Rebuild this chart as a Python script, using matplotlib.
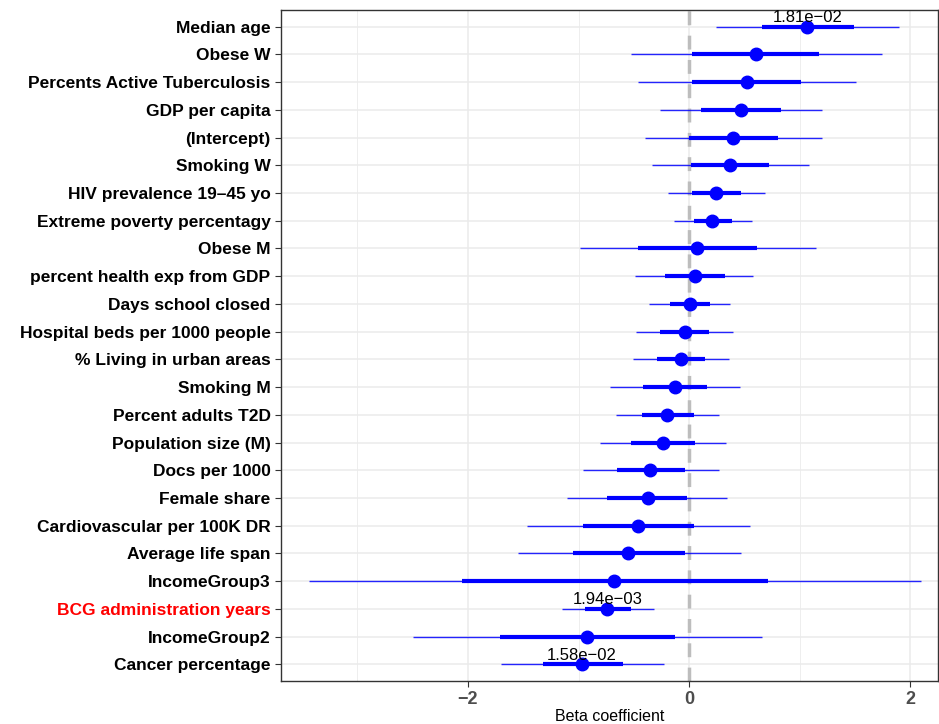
import numpy as np
import matplotlib.pyplot as plt

plt.rcParams['font.family'] = ['Liberation Sans', 'DejaVu Sans']

# terms, top to bottom
terms = ["Median age", "Obese W", "Percents Active Tuberculosis", "GDP per capita",
         "(Intercept)", "Smoking W", "HIV prevalence 19\u201345 yo",
         "Extreme poverty percentagy", "Obese M", "percent health exp from GDP",
         "Days school closed", "Hospital beds per 1000 people",
         "% Living in urban areas", "Smoking M", "Percent adults T2D",
         "Population size (M)", "Docs per 1000", "Female share",
         "Cardiovascular per 100K DR", "Average life span", "IncomeGroup3",
         "BCG administration years", "IncomeGroup2", "Cancer percentage"]

beta = [1.07, 0.60, 0.52, 0.47, 0.40, 0.37, 0.24, 0.21, 0.07, 0.05, 0.01, -0.04,
        -0.07, -0.13, -0.20, -0.24, -0.35, -0.37, -0.46, -0.55, -0.68, -0.74,
        -0.92, -0.97]
# inner (thick) interval
lo_in = [0.66, 0.03, 0.03, 0.11, 0.00, 0.02, 0.03, 0.04, -0.46, -0.22, -0.17, -0.26,
         -0.29, -0.42, -0.43, -0.53, -0.65, -0.74, -0.96, -1.05, -2.05, -0.94,
         -1.71, -1.32]
hi_in = [1.49, 1.17, 1.01, 0.83, 0.80, 0.72, 0.47, 0.39, 0.61, 0.32, 0.19, 0.18,
         0.14, 0.16, 0.04, 0.05, -0.04, -0.02, 0.04, -0.04, 0.71, -0.53,
         -0.13, -0.60]
# outer (thin) interval
lo_out = [0.24, -0.53, -0.46, -0.26, -0.40, -0.34, -0.19, -0.14, -0.99, -0.49, -0.36,
          -0.48, -0.51, -0.72, -0.66, -0.81, -0.96, -1.10, -1.47, -1.55, -3.44,
          -1.15, -2.50, -1.70]
hi_out = [1.90, 1.74, 1.51, 1.20, 1.20, 1.08, 0.69, 0.57, 1.15, 0.58, 0.37, 0.40,
          0.36, 0.46, 0.27, 0.33, 0.27, 0.34, 0.55, 0.47, 2.10, -0.32, 0.66, -0.23]

# p-value annotations for significant terms
pvals = {"Median age": "1.81e\u221202",
         "BCG administration years": "1.94e\u221203",
         "Cancer percentage": "1.58e\u221202"}

n = len(terms)
y = np.arange(n, 0, -1)

fig = plt.figure(figsize=(9.39, 7.24), dpi=100)
ax = fig.add_axes([281/939, 1 - 681/724, (938 - 281)/939, (681 - 10)/724])

ax.set_xlim(-3.69, 2.25)
ax.set_ylim(0.4, n + 0.6)

ax.set_xticks([-2, 0, 2])
ax.set_xticks([-3, -1, 1], minor=True)
ax.set_xticklabels(["\u22122", "0", "2"])
ax.grid(True, which='major', axis='both', color='#ebebeb', lw=1.1, zorder=0)
ax.grid(True, which='minor', axis='x', color='#ebebeb', lw=0.6, zorder=0)
ax.set_axisbelow(True)

ax.axvline(0, color='#bdbdbd', ls=(0, (4, 3)), lw=2.5, zorder=1)

ax.hlines(y, lo_out, hi_out, color='blue', lw=1.0, alpha=0.85, zorder=2)
ax.hlines(y, lo_in, hi_in, color='blue', lw=3.0, zorder=3)
ax.plot(beta, y, 'o', color='blue', ms=9, zorder=4)

for t, b, yy in zip(terms, beta, y):
    if t in pvals:
        ax.text(b, yy + 0.06, pvals[t], ha='center', va='bottom', fontsize=12,
                color='black', zorder=5)

ax.set_yticks(y)
ax.set_yticklabels(terms, fontsize=12.5, fontweight='bold')
for lab in ax.get_yticklabels():
    if lab.get_text() == "BCG administration years":
        lab.set_color('red')

ax.tick_params(axis='x', which='major', labelsize=13, labelcolor='#4d4d4d',
               color='#333333', length=4, pad=3)
ax.tick_params(axis='x', which='minor', length=0)
ax.tick_params(axis='y', color='#333333', length=4)
for lab in ax.get_xticklabels():
    lab.set_fontweight('bold')

for s in ax.spines.values():
    s.set_color('#333333')
    s.set_linewidth(1.0)

ax.set_xlabel("Beta coefficient", fontsize=11.5, labelpad=1)

fig.savefig("out.png", dpi=100)
